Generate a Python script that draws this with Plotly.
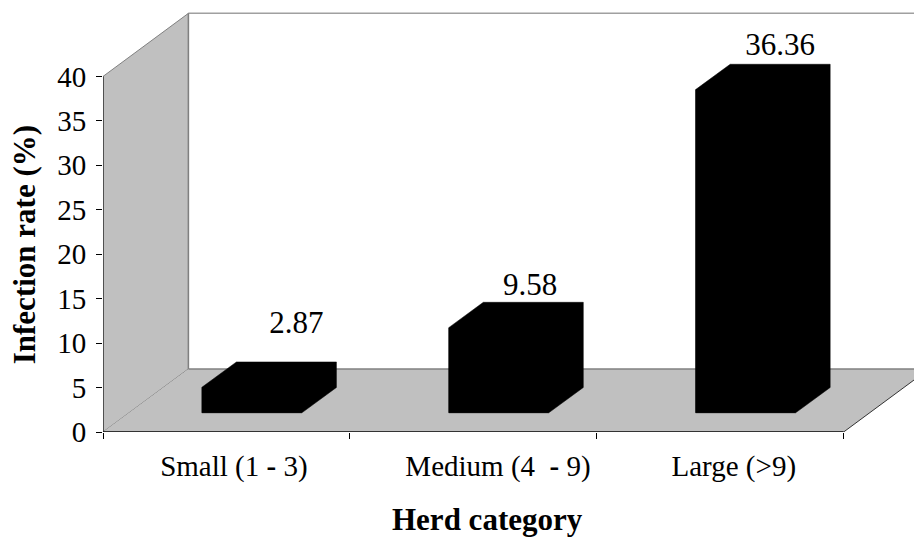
import plotly.graph_objects as go

categories = ["Small (1 <b>-</b> 3)", "Medium (4&#160; <b>-</b> 9)", "Large (&gt;9)"]
values = [2.87, 9.58, 36.36]
value_labels = ["2.87", "9.58", "36.36"]
y_ticks = [0, 5, 10, 15, 20, 25, 30, 35, 40]

FONT = "Liberation Serif"
BASE = 2.16
WIDTH = 0.405
SHIFT = 0.103
DX, DY = 0.14, 2.85
WX, WY = 0.346, 7.1
X0, X1 = -0.5, 2.5
XMAX = 2.785
positions = [i + SHIFT for i in range(len(values))]
label_dx = [0.18, 0.127, 0.14]
label_dy = [4.1, 1.65, 1.95]
tick_shift = [0.03, 0.10, 0.055]

GRAY = "#c0c0c0"
EDGE = "#808080"

fig = go.Figure()

# front faces
fig.add_trace(go.Bar(x=positions, y=values, base=BASE, width=WIDTH,
                     marker=dict(color="black", line=dict(width=0)),
                     showlegend=False, hoverinfo="skip"))

# full silhouette including top and side faces, derived from each value
for p, v in zip(positions, values):
    l, r = p - WIDTH / 2, p + WIDTH / 2
    t = BASE + v
    fig.add_trace(go.Scatter(
        x=[l, l + DX, r + DX, r + DX, r, l, l],
        y=[t, t + DY, t + DY, BASE + DY, BASE, BASE, t],
        mode="lines", fill="toself", fillcolor="black",
        line=dict(color="black", width=0.5),
        showlegend=False, hoverinfo="skip"))

# value labels
fig.add_trace(go.Scatter(
    x=[p + d for p, d in zip(positions, label_dx)],
    y=[v + BASE + DY + d for v, d in zip(values, label_dy)],
    text=value_labels, mode="text", textposition="middle center",
    textfont=dict(family=FONT, size=31, color="black"),
    cliponaxis=False, showlegend=False, hoverinfo="skip"))

shapes = [
    # side wall
    dict(type="path", layer="below", line=dict(color=EDGE, width=1), fillcolor=GRAY,
         path=f"M {X0} 0 L {X0} 40 L {X0+WX} {40+WY} L {X0+WX} {WY} Z"),
    # floor
    dict(type="path", layer="below", line=dict(width=0), fillcolor=GRAY,
         path=f"M {X0} 0 L {X0+WX} {WY} L {XMAX} {WY} L {XMAX} {(XMAX-X1)*WY/WX} L {X1} 0 Z"),
    # wall/floor edges
    dict(type="line", layer="below", x0=X0 + WX, x1=XMAX, y0=WY, y1=WY, line=dict(color=EDGE, width=1.5)),
    dict(type="line", layer="below", x0=X0 + WX, x1=XMAX, y0=40 + WY, y1=40 + WY, line=dict(color="#a0a0a0", width=1.5)),
    dict(type="line", layer="below", x0=X0 + WX, x1=X0 + WX, y0=WY, y1=40 + WY, line=dict(color=EDGE, width=1.5)),
    dict(type="line", layer="below", x0=X1, x1=XMAX, y0=0, y1=(XMAX - X1) * WY / WX, line=dict(color="#333333", width=1)),
    # axes
    dict(type="line", x0=X0, x1=X1, y0=0, y1=0, line=dict(color="#333333", width=2)),
    dict(type="line", x0=X0, x1=X0, y0=0, y1=40, line=dict(color="black", width=1)),
]

fig.update_layout(
    width=914, height=539, autosize=False,
    margin=dict(l=102.5, r=0, t=12, b=106.5),
    paper_bgcolor="white", plot_bgcolor="white",
    showlegend=False, shapes=shapes,
    xaxis=dict(
        range=[X0, XMAX], showgrid=False, zeroline=False, showline=False,
        tickmode="array", tickvals=[i + s for i, s in enumerate(tick_shift)], ticktext=categories,
        ticks="", ticklabelstandoff=14,
        tickfont=dict(family=FONT, size=29, color="black"),
        minor=dict(tickmode="array", tickvals=[-0.5, 0.5, 1.5, 2.5], ticks="outside",
                   ticklen=6, tickwidth=1, tickcolor="black", showgrid=False),
    ),
    yaxis=dict(
        range=[0, 47.25], showgrid=False, zeroline=False, showline=False,
        tickmode="array", tickvals=y_ticks, ticks="outside", ticklen=6, tickwidth=1, tickcolor="black",
        ticklabelstandoff=4,
        tickfont=dict(family=FONT, size=29, color="black"),
    ),
    annotations=[
        dict(text="<b>Herd category</b>", xref="paper", yref="paper", showarrow=False,
             x=(487 - 102.5) / 811.5, y=-(520 - 432.5) / 420.5, xanchor="center", yanchor="middle",
             font=dict(family=FONT, size=31, color="black")),
        dict(text="<b>Infection rate (%)</b>", xref="paper", yref="paper", showarrow=False, textangle=-90,
             x=-(102.5 - 24) / 811.5, y=(432.5 - 245) / 420.5, xanchor="center", yanchor="middle",
             font=dict(family=FONT, size=31, color="black")),
    ],
)

fig.write_html("out.html", config={"displayModeBar": False},
               post_script="document.body.style.margin='0';document.documentElement.style.overflow='hidden';")
